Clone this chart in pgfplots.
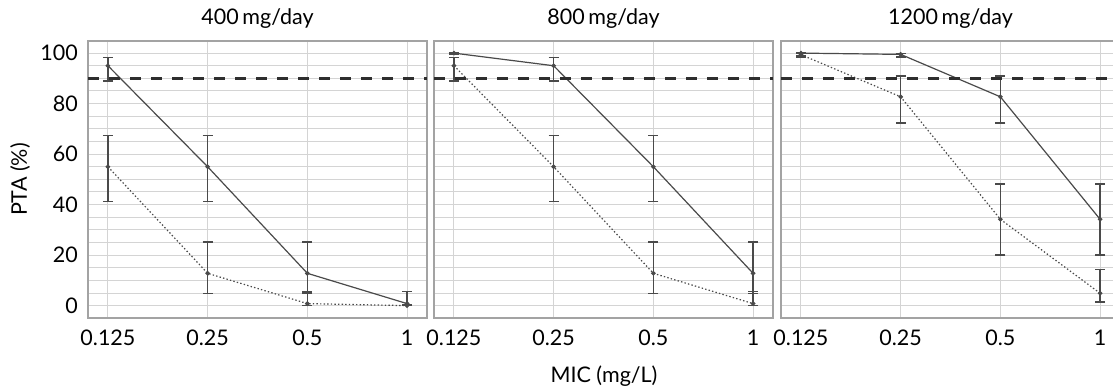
\documentclass[border=0pt]{standalone}
\usepackage{fontspec}
\setmainfont{Lato}
\usepackage{pgfplots}
\pgfplotsset{compat=1.18}
\usepackage{pgfplotstable}
\definecolor{ln}{HTML}{4A4A4A}
\definecolor{gridc}{HTML}{D4D4D4}
\definecolor{framec}{HTML}{A3A3A3}
\definecolor{thrc}{HTML}{2E2E2E}

\pgfplotstableread{
x y ep em
0 95 3.2 6
1 55 12.3 13.8
2 12.8 12.3 7.9
3 0.8 4.7 0.8
}\pOneA
\pgfplotstableread{
x y ep em
0 55 12.3 13.8
1 12.8 12.3 7.9
2 0.8 4.5 0.8
3 0 0.4 0
}\pOneB
\pgfplotstableread{
x y ep em
0 100 0 0.6
1 95 3.2 6
2 55 12.3 13.8
3 12.8 12.3 7.9
}\pTwoA
\pgfplotstableread{
x y ep em
0 95 3.2 6
1 55 12.3 13.8
2 12.8 12.3 7.9
3 0.8 4.7 0.8
}\pTwoB
\pgfplotstableread{
x y ep em
0 100 0.3 1
1 99.5 0.3 1
2 82.7 8.2 10.3
3 34.2 14 14.1
}\pThreeA
\pgfplotstableread{
x y ep em
0 99.4 0.5 1
1 82.7 8.2 10.3
2 34.2 14 14.1
3 4.9 9.5 3.4
}\pThreeB

\newcommand{\bigf}{\fontsize{21.5}{25}\selectfont}

\pgfplotsset{
  panel/.style={
    scale only axis, width=339pt, height=277pt,
    anchor=south west,
    xmin=-0.2, xmax=3.2, ymin=-4.9, ymax=104.8,
    xtick={0,1,2,3}, xticklabels={0.125,0.25,0.5,1},
    ytick={0,20,...,100}, minor ytick={0,5,...,100},
    grid=both,
    major grid style={gridc, line width=1pt},
    minor grid style={gridc, line width=1pt},
    major tick length=0pt, minor tick length=0pt,
    axis line style={framec, line width=1.2pt},
    tick label style={font=\bigf, inner sep=0pt},
    xticklabel style={anchor=north, yshift=-12pt},
    yticklabel style={anchor=east, xshift=-10pt},
    title style={font=\bigf, at={(0.5,1)}, anchor=base, yshift=10pt, inner sep=0pt},
    /pgf/number format/assume math mode=true,
    every axis plot/.append style={
      mark=*, mark size=1.7pt,
      error bars/y dir=both, error bars/y explicit,
      error bars/error bar style={ln, line width=1.5pt, solid},
      error bars/error mark options={rotate=90, mark size=5pt, line width=1.5pt, ln, solid},
    },
  },
  solidser/.style={ln, line width=1.2pt, mark options={solid, fill=ln, draw=ln}},
  dotser/.style={ln, line width=1.2pt, dash pattern=on 1.4pt off 2.2pt, mark options={solid, fill=ln, draw=ln}},
  thr/.style={thrc, line width=2.6pt, dash pattern=on 11pt off 10pt, mark=none, forget plot},
}

\begin{document}
\begin{tikzpicture}
% panel 1
\begin{axis}[panel, at={(88pt,-318pt)}, title={400\,mg/day}]
\addplot[solidser] table[x=x, y=y, y error plus=ep, y error minus=em] {\pOneA};
\addplot[dotser] table[x=x, y=y, y error plus=ep, y error minus=em] {\pOneB};
\addplot[thr] coordinates {(-0.2,90) (3.2,90)};
\end{axis}
% panel 2
\begin{axis}[panel, at={(434pt,-318pt)}, title={800\,mg/day}, yticklabels={}]
\addplot[solidser] table[x=x, y=y, y error plus=ep, y error minus=em] {\pTwoA};
\addplot[dotser] table[x=x, y=y, y error plus=ep, y error minus=em] {\pTwoB};
\addplot[thr] coordinates {(-0.2,90) (3.2,90)};
\end{axis}
% panel 3
\begin{axis}[panel, at={(781pt,-318pt)}, title={1200\,mg/day}, yticklabels={}]
\addplot[solidser] table[x=x, y=y, y error plus=ep, y error minus=em] {\pThreeA};
\addplot[dotser] table[x=x, y=y, y error plus=ep, y error minus=em] {\pThreeB};
\addplot[thr] coordinates {(-0.2,90) (3.2,90)};
\end{axis}
\node[rotate=90, font=\bigf, anchor=center] at (20pt,-179.5pt) {PTA (\%)};
\node[font=\bigf, anchor=center] at (604pt,-376pt) {MIC (mg/L)};
\pgfresetboundingbox
\path (0,0) rectangle (1113pt,-390pt);
\end{tikzpicture}
\end{document}
